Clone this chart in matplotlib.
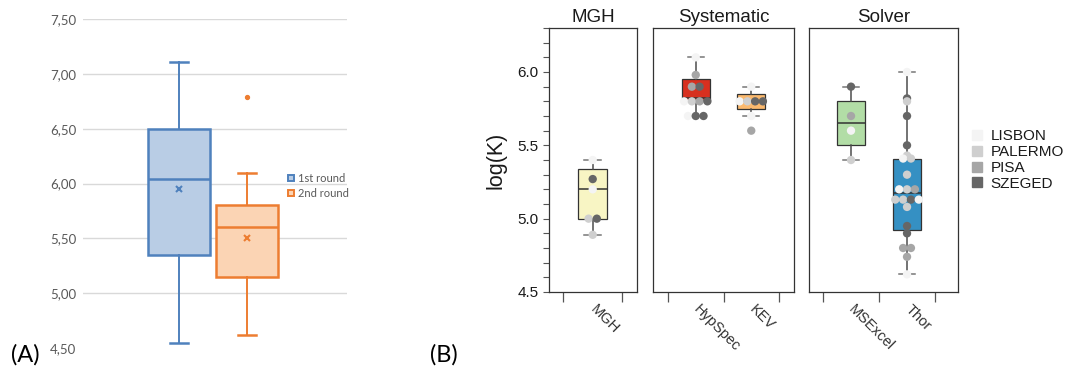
import matplotlib
matplotlib.use("Agg")
import matplotlib.pyplot as plt
from matplotlib.lines import Line2D
from matplotlib.ticker import MultipleLocator, FixedLocator

# ---- Panel A: Excel-style box plots (1st vs 2nd round) ----
rounds = ["1st round", "2nd round"]
a_q1 = [5.35, 5.15]
a_med = [6.04, 5.60]
a_q3 = [6.50, 5.80]
a_lo = [4.55, 4.62]
a_hi = [7.11, 6.10]
a_mean = [5.95, 5.50]
a_fliers = [[], [6.79]]
a_edge = ["#4f81bd", "#ed7d31"]
a_fill = ["#b9cde5", "#fbd4b4"]

# ---- Panel B: log(K) by method, faceted ----
groups = ["MGH", "Systematic", "Solver"]
group_methods = [["MGH"], ["HypSpec", "KEV"], ["MSExcel", "Thor"]]

b_methods = ["MGH", "HypSpec", "KEV", "MSExcel", "Thor"]
b_q1 = [5.00, 5.81, 5.75, 5.50, 4.92]
b_med = [5.20, 5.82, 5.80, 5.65, 5.175]
b_q3 = [5.34, 5.95, 5.85, 5.80, 5.41]
b_lo = [4.89, 5.70, 5.70, 5.40, 4.62]
b_hi = [5.40, 6.10, 5.90, 5.90, 6.00]
b_colors = ["#f8f5c4", "#d7301f", "#fbb96e", "#b2dda6", "#3590c3"]

cities = ["LISBON", "PALERMO", "PISA", "SZEGED"]
city_colors = ["#f4f4f4", "#cfcfcf", "#a6a6a6", "#666666"]

# individual lab results (method, value, city)
pt_method = (["MGH"] * 6 + ["HypSpec"] * 11 + ["KEV"] * 7 + ["MSExcel"] * 4
             + ["Thor"] * 23)
pt_value = [5.40, 5.27, 5.20, 5.00, 5.00, 4.89,
            6.10, 5.98, 5.90, 5.90, 5.80, 5.80, 5.80, 5.80, 5.70, 5.70, 5.70,
            5.90, 5.80, 5.80, 5.80, 5.80, 5.70, 5.60,
            5.90, 5.70, 5.60, 5.40,
            6.00, 5.82, 5.80, 5.70, 5.50, 5.43, 5.41, 5.41, 5.30, 5.20, 5.20,
            5.20, 5.13, 5.13, 5.13, 5.13, 5.08, 4.95, 4.90, 4.80, 4.80, 4.74,
            4.62]
pt_city = ["LISBON", "SZEGED", "LISBON", "PALERMO", "SZEGED", "PALERMO",
           "LISBON", "PISA", "PISA", "SZEGED", "LISBON", "PALERMO", "PISA",
           "SZEGED", "LISBON", "SZEGED", "SZEGED",
           "LISBON", "LISBON", "PALERMO", "SZEGED", "SZEGED", "LISBON", "PISA",
           "SZEGED", "PISA", "LISBON", "PALERMO",
           "LISBON", "SZEGED", "PALERMO", "SZEGED", "SZEGED", "PALERMO",
           "LISBON", "PALERMO", "PALERMO", "LISBON", "PALERMO", "PISA",
           "PALERMO", "PALERMO", "SZEGED", "LISBON", "PALERMO", "SZEGED",
           "SZEGED", "PISA", "PISA", "PISA", "LISBON"]

W, H = 1067, 370
fig = plt.figure(figsize=(W / 100, H / 100), dpi=100)


def px_axes(left, top, right, bottom):
    return fig.add_axes([left / W, 1 - bottom / H, (right - left) / W, (bottom - top) / H])


# ================= Panel A =================
axA = px_axes(83, 19, 347, 348)
for i in range(len(rounds)):
    st = dict(med=a_med[i], q1=a_q1[i], q3=a_q3[i], whislo=a_lo[i],
              whishi=a_hi[i], mean=a_mean[i], fliers=a_fliers[i])
    axA.bxp([st], positions=[i + 1], widths=0.91, capwidths=0.26,
            patch_artist=True, showmeans=True, zorder=3,
            boxprops=dict(facecolor=a_fill[i], edgecolor=a_edge[i], lw=1.8),
            whiskerprops=dict(color=a_edge[i], lw=1.4),
            capprops=dict(color=a_edge[i], lw=1.8),
            medianprops=dict(color=a_edge[i], lw=1.8),
            meanprops=dict(marker="x", markeredgecolor=a_edge[i],
                           markersize=3.8, markeredgewidth=1.5),
            flierprops=dict(marker="o", markerfacecolor=a_edge[i],
                            markeredgecolor=a_edge[i], markersize=2.8))

axA.set_xlim(-0.41, 3.47)
axA.set_ylim(4.5, 7.5)
yt = [4.5, 5.0, 5.5, 6.0, 6.5, 7.0, 7.5]
axA.set_yticks(yt)
axA.set_yticklabels([f"{v:.2f}".replace(".", ",") for v in yt],
                    fontsize=9.5, color="#595959", family="Lato")
axA.tick_params(axis="y", length=0, pad=5)
axA.set_xticks([])
for s in axA.spines.values():
    s.set_visible(False)
axA.yaxis.grid(True, color="#d9d9d9", lw=1)
axA.set_axisbelow(True)
axA.yaxis.get_gridlines()[0].set_visible(False)

handlesA = [Line2D([], [], ls="none", marker="s", markersize=4.8,
                   markerfacecolor=a_fill[i], markeredgecolor=a_edge[i],
                   markeredgewidth=1.4, label=rounds[i]) for i in range(2)]
legA = fig.legend(handles=handlesA, loc="center left",
                  bbox_to_anchor=(288 / W, 1 - 186 / H), frameon=False,
                  handlelength=0.6, handletextpad=0.3,
                  labelspacing=0.4, borderpad=0, borderaxespad=0,
                  prop=dict(family="Lato", size=8))
for t in legA.get_texts():
    t.set_color("#595959")

fig.text(25 / W, 1 - 355 / H, "(A)", fontsize=17, family="Lato",
         ha="center", va="center")
fig.text(444 / W, 1 - 355 / H, "(B)", fontsize=17, family="Lato",
         ha="center", va="center")

# ================= Panel B =================
facet_px = [(549, 637), (653, 794), (809, 958)]
facet_xlim = [(-0.74, 0.75), (-0.77, 1.77), (-0.75, 1.91)]
line_col = "#333333"
spacing = 0.14

for g, name in enumerate(groups):
    ax = px_axes(facet_px[g][0], 28, facet_px[g][1], 292)
    meths = group_methods[g]
    for j, m in enumerate(meths):
        k = b_methods.index(m)
        st = dict(med=b_med[k], q1=b_q1[k], q3=b_q3[k], whislo=b_lo[k],
                  whishi=b_hi[k], fliers=[])
        ax.bxp([st], positions=[j], widths=0.5, capwidths=0.28,
               patch_artist=True, zorder=2,
               boxprops=dict(facecolor=b_colors[k], edgecolor=line_col, lw=0.9),
               whiskerprops=dict(color="#4d4d4d", lw=1.1),
               capprops=dict(color="#777777", lw=1.1),
               medianprops=dict(color=line_col, lw=1.1))

        # points of this method, same values spread side by side
        idx = [i for i, pm in enumerate(pt_method) if pm == m]
        rows = {}
        for i in idx:
            rows.setdefault(pt_value[i], []).append(i)
        xs, ys, cs = [], [], []
        for v, members in rows.items():
            n = len(members)
            for r, i in enumerate(members):
                xs.append(j + (r - (n - 1) / 2) * spacing)
                ys.append(v)
                cs.append(city_colors[cities.index(pt_city[i])])
        ax.scatter(xs, ys, s=36, c=cs, edgecolors="none", zorder=4)

    ax.set_xlim(*facet_xlim[g])
    ax.set_ylim(4.5, 6.3)
    ax.set_title(name, fontsize=13.5, family="Liberation Sans", pad=4,
                 color="#1a1a1a")
    for s in ax.spines.values():
        s.set_color("#333333")
        s.set_linewidth(0.9)

    ax.xaxis.set_major_locator(FixedLocator(list(range(len(meths)))))
    ax.set_xticklabels(meths, rotation=-45, ha="left", va="center",
                       rotation_mode="anchor", fontsize=10.5,
                       family="Liberation Sans", color="#333333")
    ax.xaxis.set_minor_locator(FixedLocator([j - 0.5 for j in range(len(meths) + 1)]))
    ax.tick_params(axis="x", which="major", length=0, pad=11)
    ax.tick_params(axis="x", which="minor", length=7, color="#555555", width=0.9)

    if g == 0:
        ax.yaxis.set_major_locator(MultipleLocator(0.5))
        ax.yaxis.set_minor_locator(MultipleLocator(0.1))
        ax.tick_params(axis="y", which="both", length=4, color="#555555", width=0.8)
        ax.set_yticklabels([f"{v:.1f}" for v in ax.get_yticks()])
        for t in ax.get_yticklabels():
            t.set_fontsize(11)
            t.set_family("Liberation Sans")
            t.set_color("#1a1a1a")
        ax.set_ylabel("log(K)", fontsize=15.5, family="Liberation Sans",
                      labelpad=8, color="#1a1a1a")
    else:
        ax.set_yticks([])

handlesB = [Line2D([], [], ls="none", marker="s", markersize=7.5,
                   markerfacecolor=city_colors[i], markeredgecolor=city_colors[i],
                   label=cities[i]) for i in range(len(cities))]
legB = fig.legend(handles=handlesB, loc="center left",
                  bbox_to_anchor=(969 / W, 1 - 160 / H), frameon=False,
                  handlelength=1.0, handletextpad=0.4, labelspacing=0.12,
                  borderpad=0, borderaxespad=0,
                  prop=dict(family="Liberation Sans", size=11))
for t in legB.get_texts():
    t.set_color("#1a1a1a")

fig.savefig("out.png", dpi=100)
